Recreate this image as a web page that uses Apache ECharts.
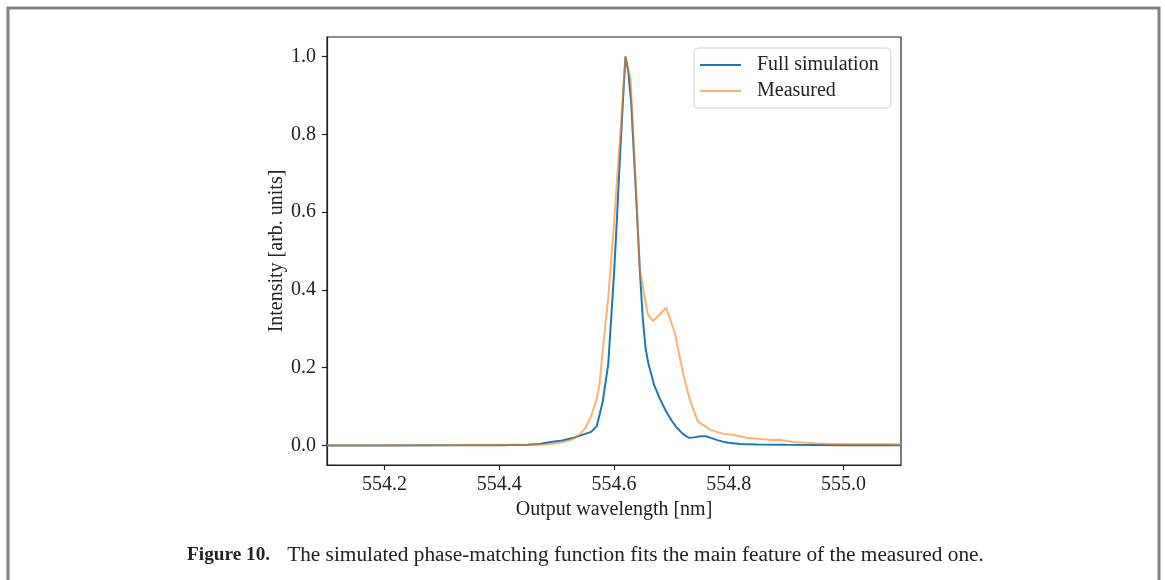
<!DOCTYPE html>
<html>
<head>
<meta charset="utf-8">
<script src="https://cdn.jsdelivr.net/npm/echarts@6/dist/echarts.min.js"></script>
<style>
html,body{margin:0;padding:0;background:#fff;}
#chart{width:1165px;height:580px;}
</style>
</head>
<body>
<div id="chart"></div>
<script>
// Full simulation
const simX = [554.10, 554.20, 554.30, 554.40, 554.45, 554.47, 554.49, 554.51, 554.53, 554.55, 554.56, 554.57, 554.58, 554.59, 554.60, 554.605, 554.61, 554.615, 554.62, 554.625, 554.63, 554.64, 554.645, 554.65, 554.655, 554.66, 554.67, 554.68, 554.69, 554.70, 554.71, 554.72, 554.73, 554.74, 554.75, 554.76, 554.77, 554.78, 554.79, 554.80, 554.82, 554.85, 554.90, 555.00, 555.10];
const simY = [0.000, 0.000, 0.001, 0.001, 0.002, 0.004, 0.009, 0.013, 0.020, 0.030, 0.035, 0.050, 0.110, 0.210, 0.440, 0.580, 0.730, 0.870, 1.000, 0.960, 0.880, 0.600, 0.450, 0.330, 0.250, 0.210, 0.155, 0.120, 0.090, 0.065, 0.045, 0.030, 0.020, 0.021, 0.024, 0.024, 0.019, 0.014, 0.010, 0.007, 0.004, 0.003, 0.002, 0.001, 0.001];
// Measured
const measX = [554.10, 554.20, 554.30, 554.40, 554.45, 554.48, 554.50, 554.52, 554.53, 554.54, 554.55, 554.56, 554.57, 554.575, 554.58, 554.59, 554.60, 554.605, 554.61, 554.62, 554.629, 554.636, 554.645, 554.659, 554.668, 554.691, 554.706, 554.720, 554.732, 554.746, 554.767, 554.790, 554.807, 554.831, 554.860, 554.876, 554.888, 554.912, 554.950, 554.981, 555.030, 555.070, 555.100];
const measY = [0.000, 0.001, 0.001, 0.002, 0.002, 0.003, 0.006, 0.012, 0.018, 0.028, 0.045, 0.075, 0.120, 0.160, 0.240, 0.380, 0.570, 0.680, 0.780, 1.000, 0.940, 0.730, 0.450, 0.337, 0.320, 0.354, 0.290, 0.187, 0.118, 0.062, 0.041, 0.030, 0.028, 0.020, 0.016, 0.014, 0.015, 0.009, 0.006, 0.004, 0.004, 0.004, 0.003];
const xTicks = [554.2, 554.4, 554.6, 554.8, 555.0];
const yTicks = [0.0, 0.2, 0.4, 0.6, 0.8, 1.0];
const seriesNames = ['Full simulation', 'Measured'];
const xTitle = 'Output wavelength [nm]';
const yTitle = 'Intensity [arb. units]';
const captionBold = 'Figure 10.';
const captionText = 'The simulated phase-matching function fits the main feature of the measured one.';

const FONT = 'Liberation Serif';
const chart = echarts.init(document.getElementById('chart'), null, {renderer: 'canvas'});
const pairs = (xs, ys) => xs.map((x, i) => [x, ys[i]]);

chart.setOption({
  animation: false,
  backgroundColor: '#ffffff',
  textStyle: {fontFamily: FONT},
  grid: {left: 327, right: 264, top: 37, bottom: 115, show: true, borderColor: '#222', borderWidth: 1.2, backgroundColor: 'transparent'},
  title: {
    left: 182, top: 540,
    text: '{b|' + captionBold + '}{n|' + captionText + '}',
    textStyle: {
      fontFamily: FONT, fontSize: 21, fontWeight: 'normal', color: '#222',
      rich: {
        b: {fontFamily: FONT, fontSize: 19.3, fontWeight: 'bold', color: '#222', padding: [0, 17, 0, 0]},
        n: {fontFamily: FONT, fontSize: 21.3, fontWeight: 'normal', color: '#222'}
      }
    }
  },
  graphic: [{
    type: 'rect', silent: true,
    shape: {x: 8, y: 8, width: 1151, height: 620},
    style: {fill: 'none', stroke: '#808080', lineWidth: 3}
  }],
  legend: {
    orient: 'vertical',
    left: 694, top: 48,
    width: 160,
    padding: [7, 12, 7, 5],
    itemGap: 6,
    itemWidth: 41, itemHeight: 14,
    borderColor: '#d0d0d0', borderWidth: 1, borderRadius: 4,
    backgroundColor: '#fff',
    itemStyle: {opacity: 0},
    lineStyle: {width: 2},
    textStyle: {fontFamily: FONT, fontSize: 20, color: '#222', padding: [0, 0, 0, 11]},
    data: seriesNames
  },
  xAxis: {
    type: 'value', min: 554.1, max: 555.1,
    name: xTitle, nameLocation: 'middle', nameGap: 35,
    nameTextStyle: {fontFamily: FONT, fontSize: 20, color: '#222'},
    axisLine: {show: true, onZero: false, lineStyle: {color: '#222', width: 1.2}},
    axisTick: {show: true, length: 5, lineStyle: {color: '#222', width: 1.2}, customValues: xTicks},
    axisLabel: {fontFamily: FONT, fontSize: 20, color: '#222', margin: 10, customValues: xTicks, formatter: v => Number(v).toFixed(1)},
    splitLine: {show: false}
  },
  yAxis: {
    type: 'value', min: -0.05, max: 1.05,
    name: yTitle, nameLocation: 'middle', nameGap: 38, nameRotate: 90,
    nameTextStyle: {fontFamily: FONT, fontSize: 20, color: '#222'},
    axisLine: {show: true, onZero: false, lineStyle: {color: '#222', width: 1.2}},
    axisTick: {show: true, length: 5, lineStyle: {color: '#222', width: 1.2}, customValues: yTicks},
    axisLabel: {fontFamily: FONT, fontSize: 20, color: '#222', margin: 11, customValues: yTicks, formatter: v => Number(v).toFixed(1)},
    splitLine: {show: false}
  },
  series: [
    {
      name: seriesNames[0], type: 'line', data: pairs(simX, simY),
      symbol: 'none', smooth: false,
      lineStyle: {color: '#1f77b4', width: 2},
      itemStyle: {color: '#1f77b4'}
    },
    {
      name: seriesNames[1], type: 'line', data: pairs(measX, measY),
      symbol: 'none', smooth: false,
      lineStyle: {color: '#ff7f0e', width: 2, opacity: 0.6},
      itemStyle: {color: '#ffb26e'}
    }
  ]
});
</script>
</body>
</html>
